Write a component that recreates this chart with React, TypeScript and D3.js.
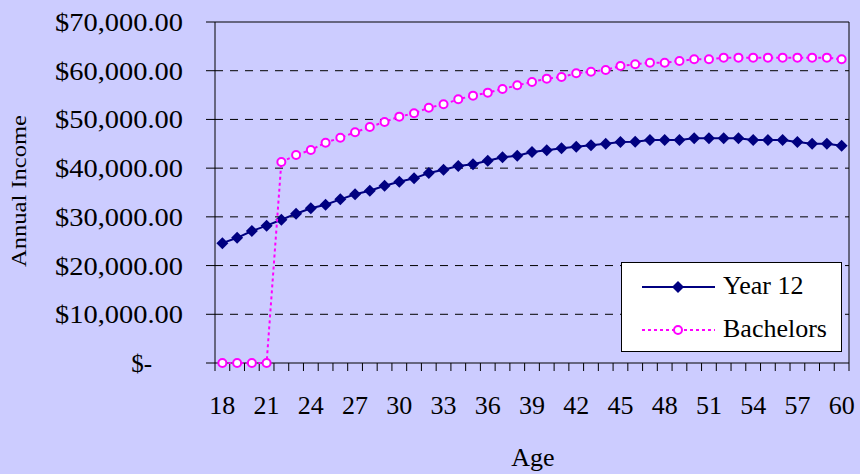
import React from "react";
import * as d3 from "d3";

const ages: number[] = d3.range(18, 61);
const year12: number[] = [
  24600, 25700, 27100, 28200, 29400, 30650, 31750, 32500, 33600, 34630,
  35370, 36400, 37220, 37910, 39000, 39690, 40440, 40790, 41500, 42230,
  42560, 43320, 43660, 44070, 44410, 44690, 45030, 45370, 45440, 45780,
  45780, 45780, 46120, 46120, 46120, 46120, 45780, 45780, 45780, 45370,
  45030, 45030, 44620,
];
const bachelors: number[] = [
  0, 0, 0, 0, 41260, 42700, 43730, 45230, 46250, 47360,
  48450, 49480, 50570, 51260, 52410, 53110, 54130, 54880, 55500, 56250,
  57000, 57690, 58370, 58710, 59470, 59800, 60150, 60970, 61320, 61650,
  61650, 62000, 62350, 62350, 62680, 62680, 62680, 62680, 62680, 62680,
  62680, 62680, 62350,
];
const yTicks: number[] = [0, 10000, 20000, 30000, 40000, 50000, 60000, 70000];
const xLabelAges: number[] = d3.range(18, 61, 3);
const seriesNames: string[] = ["Year 12", "Bachelors"];

const W = 860;
const H = 474;
const left = 215;
const right = 849;
const top = 22;
const bottom = 363;
const FONT = "'Liberation Serif', 'Times New Roman', serif";
const NAVY = "#000080";
const MAGENTA = "#FF00FF";

export default function App() {
  const x = d3.scaleBand<number>().domain(ages).range([left, right]).padding(0);
  const y = d3.scaleLinear().domain([0, 70000]).range([bottom, top]);
  const cx = (a: number) => (x(a) as number) + x.bandwidth() / 2;
  const fmt = d3.format("$,.2f");

  const line = d3
    .line<number>()
    .x((_, i) => cx(ages[i]))
    .y((d) => y(d));

  const diamond = (px: number, py: number, r: number) =>
    `M${px},${py - r}L${px + r},${py}L${px},${py + r}L${px - r},${py}Z`;

  const boundaries = d3.range(ages.length + 1).map((i) => left + i * x.bandwidth());

  return (
    <svg
      width={W}
      height={H}
      style={{ position: "absolute", left: 0, top: 0, display: "block" }}
      fontFamily={FONT}
    >
      <rect x={0} y={0} width={W} height={H} fill="#CCCCFF" />

      {yTicks
        .filter((t) => t > 0 && t < 70000)
        .map((t) => (
          <line
            key={"g" + t}
            x1={left}
            x2={right}
            y1={y(t)}
            y2={y(t)}
            stroke="#000"
            strokeWidth={1}
            strokeDasharray="8,7"
          />
        ))}
      <line x1={left} x2={right} y1={y(70000)} y2={y(70000)} stroke="#000" strokeWidth={1} />
      <line x1={right} x2={right} y1={top} y2={bottom} stroke="#000" strokeWidth={1} />

      <line x1={left} x2={left} y1={top} y2={bottom} stroke="#000" strokeWidth={1} />
      <line x1={left} x2={right} y1={bottom} y2={bottom} stroke="#000" strokeWidth={1} />
      {yTicks.map((t) => (
        <line key={"yt" + t} x1={left - 9} x2={left} y1={y(t)} y2={y(t)} stroke="#000" />
      ))}
      {boundaries.map((bx, i) => (
        <line key={"xt" + i} x1={bx} x2={bx} y1={bottom} y2={bottom + 8} stroke="#000" />
      ))}

      {yTicks.map((t) => (
        <text
          key={"yl" + t}
          x={t === 0 ? 152 : 183}
          y={y(t) + 9}
          textAnchor="end"
          fontSize={25}
          textLength={t === 0 ? undefined : 128}
          lengthAdjust="spacingAndGlyphs"
          fill="#000"
        >
          {t === 0 ? "$-" : fmt(t)}
        </text>
      ))}

      {xLabelAges.map((a) => (
        <text key={"xl" + a} x={cx(a)} y={414} textAnchor="middle" fontSize={26} fill="#000">
          {a}
        </text>
      ))}

      <text x={533} y={466} textAnchor="middle" fontSize={26} fill="#000">
        Age
      </text>
      <text
        transform="translate(26,191) rotate(-90)"
        textAnchor="middle"
        fontSize={20}
        textLength={152}
        lengthAdjust="spacingAndGlyphs"
        fill="#000"
      >
        Annual Income
      </text>

      <path d={line(year12) || ""} fill="none" stroke={NAVY} strokeWidth={2} />
      {year12.map((v, i) => (
        <path key={"d" + i} d={diamond(cx(ages[i]), y(v), 6)} fill={NAVY} />
      ))}

      <path
        d={line(bachelors) || ""}
        fill="none"
        stroke={MAGENTA}
        strokeWidth={2}
        strokeDasharray="3,3"
      />
      {bachelors.map((v, i) => (
        <circle
          key={"c" + i}
          cx={cx(ages[i])}
          cy={y(v)}
          r={4}
          fill="#fff"
          stroke={MAGENTA}
          strokeWidth={2}
        />
      ))}

      <rect x={621.5} y={262.5} width={220} height={89} fill="#fff" stroke="#000" strokeWidth={1} />
      <line x1={642} x2={715} y1={287} y2={287} stroke={NAVY} strokeWidth={2} />
      <path d={diamond(678, 287, 6)} fill={NAVY} />
      <text x={723} y={294} fontSize={26} fill="#000">
        {seriesNames[0]}
      </text>
      <line
        x1={642}
        x2={715}
        y1={330}
        y2={330}
        stroke={MAGENTA}
        strokeWidth={2}
        strokeDasharray="3,3"
      />
      <circle cx={678} cy={330} r={4} fill="#fff" stroke={MAGENTA} strokeWidth={2} />
      <text x={723} y={337} fontSize={26} fill="#000">
        {seriesNames[1]}
      </text>
    </svg>
  );
}
